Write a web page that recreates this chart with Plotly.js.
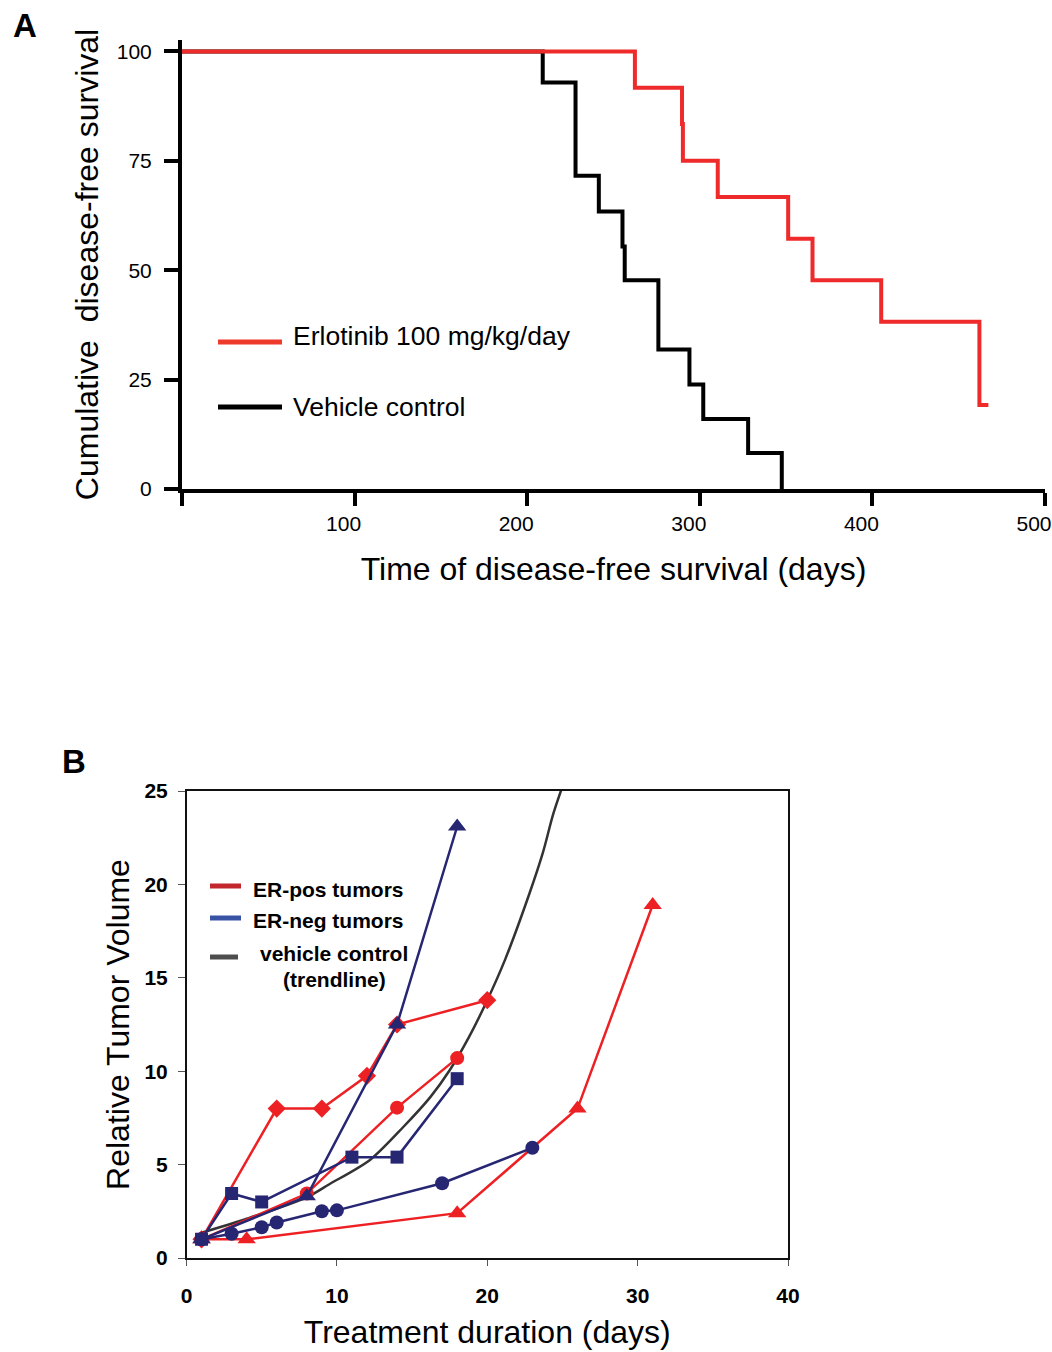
<!DOCTYPE html>
<html>
<head>
<meta charset="utf-8">
<script src="https://cdn.plot.ly/plotly-3.0.1.min.js"></script>
<style>
html,body{margin:0;padding:0;background:#fff;}
#chart{width:1052px;height:1352px;}
</style>
</head>
<body>
<div id="chart"></div>
<script>
// ---------- Panel A: disease-free survival (Kaplan-Meier steps) ----------
const vehicleDays = [0, 209, 228, 241.5, 255.2, 256.5, 276, 294, 302, 328, 347.5];
const vehicleSurv = [100, 92.9, 71.6, 63.4, 55.4, 47.7, 31.9, 23.9, 16.0, 8.2, 0];
const erlotDays = [0, 262.4, 289.7, 290.2, 310.4, 351.2, 365.3, 405.1, 462, 467.2];
const erlotSurv = [100, 91.7, 83.4, 75.0, 66.7, 57.2, 47.7, 38.2, 19.2, 19.2];
const aXTicks = [0, 100, 200, 300, 400, 500];
const aXLabels = ['', '100', '200', '300', '400', '500'];
const aYTicks = [0, 25, 50, 75, 100];
const aYLabels = ['0', '25', '50', '75', '100'];

// ---------- Panel B: relative tumor volume ----------
const posDiamondDays = [1, 6, 9, 12, 14, 20];
const posDiamondVol  = [1, 8, 8, 9.75, 12.5, 13.8];
const posCircleDays  = [1, 8, 14, 18];
const posCircleVol   = [1, 3.45, 8.05, 10.7];
const posTriDays     = [1, 4, 18, 26, 31];
const posTriVol      = [1, 1, 2.4, 8, 18.9];
const negTriDays     = [1, 8, 14, 18];
const negTriVol      = [1, 3.3, 12.5, 23.1];
const negSquareDays  = [1, 3, 5, 11, 14, 18];
const negSquareVol   = [1, 3.45, 3.0, 5.4, 5.4, 9.6];
const negCircleDays  = [1, 3, 5, 6, 9, 10, 17, 23];
const negCircleVol   = [1, 1.3, 1.65, 1.9, 2.5, 2.55, 4.0, 5.9];
const trendDays      = [1, 4, 8, 9.5, 12.2, 14.4, 16.2, 17.5, 18.8, 20, 21.2, 22.8, 23.7, 24.4, 25.2];
const trendVol       = [1.35, 2.1, 3.25, 3.95, 5.25, 7.0, 8.6, 10.05, 11.85, 13.8, 16.0, 19.5, 21.7, 23.8, 25.7];
const bXTicks = [0, 10, 20, 30, 40];
const bYTicks = [0, 5, 10, 15, 20, 25];

const RED = '#ED2024';
const NAVY = '#262673';
const FONT = 'Liberation Sans, Arial, sans-serif';

function ser(x, y, color, symbol, size) {
  return {
    x: x, y: y, xaxis: 'x2', yaxis: 'y2', type: 'scatter', mode: 'lines+markers',
    line: {color: color, width: 2.5},
    marker: {color: color, symbol: symbol, size: size, line: {width: 0}},
    showlegend: false, hoverinfo: 'skip'
  };
}

const traces = [
  {x: vehicleDays, y: vehicleSurv, type: 'scatter', mode: 'lines', line: {shape: 'hv', color: '#000', width: 4},
   xaxis: 'x', yaxis: 'y', showlegend: false},
  {x: erlotDays, y: erlotSurv, type: 'scatter', mode: 'lines', line: {shape: 'hv', color: '#EE2A2B', width: 4},
   xaxis: 'x', yaxis: 'y', showlegend: false},
  {x: trendDays, y: trendVol, xaxis: 'x2', yaxis: 'y2', type: 'scatter', mode: 'lines',
   line: {color: '#333333', width: 2.5, shape: 'spline', smoothing: 0.8}, showlegend: false},
  ser(posTriDays, posTriVol, RED, 'triangle-up', 16),
  ser(posCircleDays, posCircleVol, RED, 'circle', 14),
  ser(posDiamondDays, posDiamondVol, RED, 'diamond', 14),
  ser(negCircleDays, negCircleVol, NAVY, 'circle', 14),
  ser(negSquareDays, negSquareVol, NAVY, 'square', 13),
  ser(negTriDays, negTriVol, NAVY, 'triangle-up', 16)
];

const W = 1052, H = 1352;
function px(x) { return x / W; }
function py(y) { return 1 - y / H; }

const layout = {
  width: W, height: H,
  margin: {l: 0, r: 0, t: 0, b: 0},
  paper_bgcolor: '#fff', plot_bgcolor: 'rgba(0,0,0,0)',
  font: {family: FONT, color: '#000'},
  showlegend: false,
  xaxis: {
    domain: [px(182), px(1045)], anchor: 'y', range: [0, 500],
    tickvals: aXTicks, ticktext: aXLabels,
    showgrid: false, zeroline: false, showline: true, linecolor: '#000', linewidth: 4,
    ticks: 'outside', ticklen: 13, tickwidth: 4, tickcolor: '#000',
    tickfont: {size: 21, family: FONT}, ticklabelshift: -11,
    title: {text: 'Time of disease-free survival (days)', font: {size: 32, family: FONT}, standoff: 24}
  },
  yaxis: {
    domain: [py(489), py(40)], anchor: 'x', range: [0, 102.6],
    tickvals: aYTicks, ticktext: aYLabels,
    showgrid: false, zeroline: false, showline: true, linecolor: '#000', linewidth: 4,
    ticks: 'outside', ticklen: 14, tickwidth: 4, tickcolor: '#000',
    tickfont: {size: 21, family: FONT}, ticklabelstandoff: 8,
    title: {text: 'Cumulative  disease-free survival', font: {size: 32, family: FONT}, standoff: 10}
  },
  xaxis2: {
    domain: [px(186.5), px(788)], anchor: 'y2', range: [0, 40],
    tickvals: bXTicks,
    showgrid: false, zeroline: false, showline: true, mirror: true, linecolor: '#111', linewidth: 2,
    ticks: 'outside', ticklen: 6, tickwidth: 1, tickcolor: '#555',
    tickfont: {size: 21, family: FONT, weight: 'bold'}, ticklabelstandoff: 12,
    title: {text: 'Treatment duration (days)', font: {size: 32, family: FONT}, standoff: 14}
  },
  yaxis2: {
    domain: [py(1258), py(791)], anchor: 'x2', range: [0, 25],
    tickvals: bYTicks,
    showgrid: false, zeroline: false, showline: true, mirror: true, linecolor: '#111', linewidth: 1.5,
    ticks: 'outside', ticklen: 7, tickwidth: 1, tickcolor: '#555',
    tickfont: {size: 21, family: FONT, weight: 'bold'}, ticklabelstandoff: 6,
    title: {text: 'Relative Tumor Volume', font: {size: 32, family: FONT}, standoff: 5}
  },
  shapes: [
    // Panel A legend swatches
    {type: 'line', xref: 'paper', yref: 'paper', x0: px(218), x1: px(282), y0: py(342), y1: py(342),
     line: {color: '#EE3A2B', width: 5}},
    {type: 'line', xref: 'paper', yref: 'paper', x0: px(218), x1: px(282), y0: py(407), y1: py(407),
     line: {color: '#000', width: 5}},
    // Panel B legend swatches
    {type: 'line', xref: 'paper', yref: 'paper', x0: px(210), x1: px(241), y0: py(886), y1: py(886),
     line: {color: '#C1272D', width: 5}},
    {type: 'line', xref: 'paper', yref: 'paper', x0: px(210), x1: px(241), y0: py(918), y1: py(918),
     line: {color: '#3953A4', width: 5}},
    {type: 'line', xref: 'paper', yref: 'paper', x0: px(210), x1: px(238), y0: py(957), y1: py(957),
     line: {color: '#4D4D4D', width: 5}}
  ],
  annotations: [
    {text: '<b>A</b>', xref: 'paper', yref: 'paper', x: px(11), y: py(25), xanchor: 'left', yanchor: 'middle',
     showarrow: false, font: {size: 33, family: FONT}},
    {text: '<b>B</b>', xref: 'paper', yref: 'paper', x: px(60), y: py(761), xanchor: 'left', yanchor: 'middle',
     showarrow: false, font: {size: 33, family: FONT}},
    {text: 'Erlotinib 100 mg/kg/day', xref: 'paper', yref: 'paper', x: px(291), y: py(336), xanchor: 'left', yanchor: 'middle',
     showarrow: false, font: {size: 26.5, family: FONT}},
    {text: 'Vehicle control', xref: 'paper', yref: 'paper', x: px(291), y: py(407), xanchor: 'left', yanchor: 'middle',
     showarrow: false, font: {size: 26.5, family: FONT}},
    {text: '<b>ER-pos tumors</b>', xref: 'paper', yref: 'paper', x: px(251), y: py(889), xanchor: 'left', yanchor: 'middle',
     showarrow: false, font: {size: 21, family: FONT}},
    {text: '<b>ER-neg tumors</b>', xref: 'paper', yref: 'paper', x: px(251), y: py(921), xanchor: 'left', yanchor: 'middle',
     showarrow: false, font: {size: 21, family: FONT}},
    {text: '<b>vehicle control</b>', xref: 'paper', yref: 'paper', x: px(334), y: py(953), xanchor: 'center', yanchor: 'middle',
     showarrow: false, font: {size: 21, family: FONT}},
    {text: '<b>(trendline)</b>', xref: 'paper', yref: 'paper', x: px(334), y: py(979), xanchor: 'center', yanchor: 'middle',
     showarrow: false, font: {size: 21, family: FONT}}
  ]
};

Plotly.newPlot('chart', traces, layout, {staticPlot: true, displayModeBar: false});
</script>
</body>
</html>
